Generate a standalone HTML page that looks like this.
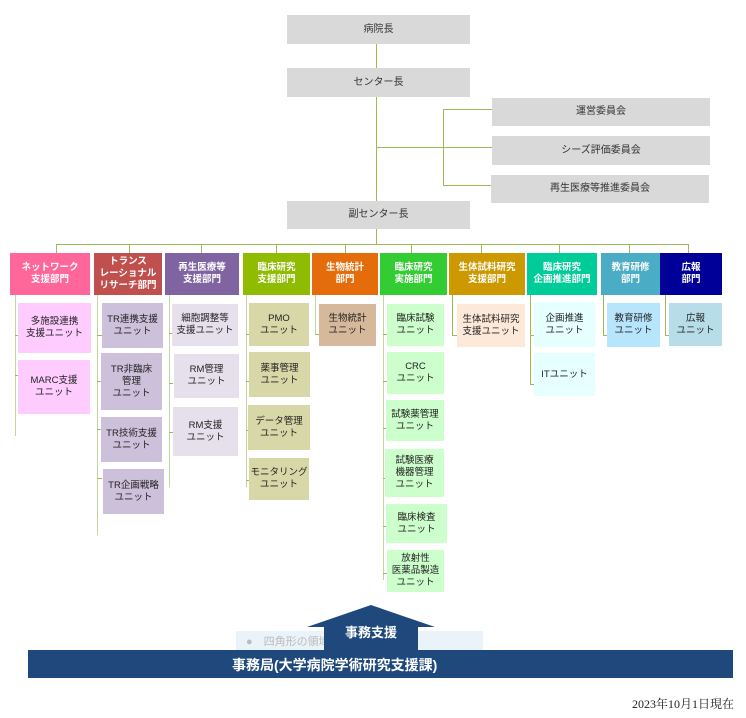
<!DOCTYPE html>
<html><head><meta charset="utf-8"><style>
body{margin:0;width:746px;height:718px;background:#fff;position:relative;overflow:hidden;font-family:"Liberation Sans","Noto Sans CJK JP",sans-serif;}
.b{position:absolute;display:flex;align-items:center;justify-content:center;text-align:center;font-size:10px;line-height:12px;color:#222;box-sizing:border-box;}
.g{background:#d9d9d9;color:#333;font-size:10px;}
.h{color:#fff;font-weight:bold;font-size:9.5px;line-height:12px;}
.u{font-size:9.5px;line-height:12px;color:#222;}
.l{position:absolute;background:#9bbb59;}
</style></head><body>
<!-- top lines -->
<div class="l" style="left:376px;top:44px;width:1px;height:157px"></div>
<div class="l" style="left:376px;top:147px;width:116px;height:1px"></div>
<div class="l" style="left:443px;top:109px;width:1px;height:77px"></div>
<div class="l" style="left:443px;top:109px;width:49px;height:1px"></div>
<div class="l" style="left:443px;top:185px;width:49px;height:1px"></div>
<div class="l" style="left:376px;top:229px;width:1px;height:15px"></div>
<div class="l" style="left:56px;top:244px;width:632px;height:1px"></div>
<div class="l" style="left:56px;top:244px;width:1px;height:9px"></div>
<div class="l" style="left:129px;top:244px;width:1px;height:9px"></div>
<div class="l" style="left:201px;top:244px;width:1px;height:9px"></div>
<div class="l" style="left:276px;top:244px;width:1px;height:9px"></div>
<div class="l" style="left:345px;top:244px;width:1px;height:9px"></div>
<div class="l" style="left:411px;top:244px;width:1px;height:9px"></div>
<div class="l" style="left:481px;top:244px;width:1px;height:9px"></div>
<div class="l" style="left:559px;top:244px;width:1px;height:9px"></div>
<div class="l" style="left:629px;top:244px;width:1px;height:9px"></div>
<div class="l" style="left:688px;top:244px;width:1px;height:9px"></div>

<div class="b g" style="left:287px;top:15px;width:183px;height:29px">病院長</div>
<div class="b g" style="left:287px;top:68px;width:183px;height:29px">センター長</div>
<div class="b g" style="left:492px;top:98px;width:218px;height:28px">運営委員会</div>
<div class="b g" style="left:492px;top:136px;width:218px;height:29px">シーズ評価委員会</div>
<div class="b g" style="left:491px;top:175px;width:218px;height:28px">再生医療等推進委員会</div>
<div class="b g" style="left:287px;top:201px;width:183px;height:28px">副センター長</div>

<!-- headers -->
<div class="b h" style="left:10px;top:253px;width:80px;height:42px;background:#ff6699">ネットワーク<br>支援部門</div>
<div class="b h" style="left:94px;top:253px;width:68px;height:42px;background:#c0504d">トランス<br>レーショナル<br>リサーチ部門</div>
<div class="b h" style="left:165px;top:253px;width:74px;height:42px;background:#8064a2">再生医療等<br>支援部門</div>
<div class="b h" style="left:243px;top:253px;width:67px;height:42px;background:#8fbc00">臨床研究<br>支援部門</div>
<div class="b h" style="left:312px;top:253px;width:66px;height:42px;background:#e46c0a">生物統計<br>部門</div>
<div class="b h" style="left:380px;top:253px;width:67px;height:42px;background:#33cc33">臨床研究<br>実施部門</div>
<div class="b h" style="left:449px;top:253px;width:76px;height:42px;background:#cc9900">生体試料研究<br>支援部門</div>
<div class="b h" style="left:527px;top:253px;width:70px;height:42px;background:#00cc99">臨床研究<br>企画推進部門</div>
<div class="b h" style="left:601px;top:253px;width:59px;height:42px;background:#4bacc6">教育研修<br>部門</div>
<div class="b h" style="left:660px;top:253px;width:62px;height:42px;background:#000099">広報<br>部門</div>

<!-- column connectors -->
<div class="l" style="left:15px;top:295px;width:1px;height:141px;background:#c3d69b"></div>
<div class="l" style="left:15px;top:335px;width:4px;height:1px"></div>
<div class="l" style="left:15px;top:375px;width:4px;height:1px"></div>
<div class="l" style="left:97px;top:295px;width:1px;height:240px;background:#c3d69b"></div>
<div class="l" style="left:97px;top:335px;width:5px;height:1px"></div><div class="l" style="left:97px;top:381px;width:5px;height:1px"></div><div class="l" style="left:97px;top:429px;width:5px;height:1px"></div><div class="l" style="left:97px;top:478px;width:5px;height:1px"></div>
<div class="l" style="left:169px;top:295px;width:1px;height:192px;background:#c3d69b"></div>
<div class="l" style="left:169px;top:333px;width:4px;height:1px"></div><div class="l" style="left:169px;top:383px;width:4px;height:1px"></div><div class="l" style="left:169px;top:432px;width:4px;height:1px"></div>
<div class="l" style="left:246px;top:295px;width:1px;height:192px;background:#c3d69b"></div>
<div class="l" style="left:246px;top:334px;width:4px;height:1px"></div><div class="l" style="left:246px;top:381px;width:4px;height:1px"></div><div class="l" style="left:246px;top:430px;width:4px;height:1px"></div><div class="l" style="left:246px;top:480px;width:4px;height:1px"></div>
<div class="l" style="left:315px;top:295px;width:1px;height:40px;background:#c3d69b"></div><div class="l" style="left:315px;top:334px;width:4px;height:1px"></div>
<div class="l" style="left:383px;top:295px;width:1px;height:285px;background:#c3d69b"></div>
<div class="l" style="left:383px;top:334px;width:4px;height:1px"></div><div class="l" style="left:383px;top:381px;width:4px;height:1px"></div><div class="l" style="left:383px;top:428px;width:4px;height:1px"></div><div class="l" style="left:383px;top:478px;width:4px;height:1px"></div><div class="l" style="left:383px;top:526px;width:4px;height:1px"></div><div class="l" style="left:383px;top:573px;width:4px;height:1px"></div>
<div class="l" style="left:452px;top:295px;width:1px;height:40px"></div><div class="l" style="left:452px;top:335px;width:5px;height:1px"></div>
<div class="l" style="left:530px;top:295px;width:1px;height:90px"></div><div class="l" style="left:530px;top:335px;width:4px;height:1px"></div><div class="l" style="left:530px;top:384px;width:4px;height:1px"></div>
<div class="l" style="left:603px;top:295px;width:1px;height:40px"></div><div class="l" style="left:603px;top:335px;width:4px;height:1px"></div>
<div class="l" style="left:665px;top:295px;width:1px;height:40px"></div><div class="l" style="left:665px;top:335px;width:4px;height:1px"></div>

<!-- units -->
<div class="b u" style="left:18px;top:303px;width:73px;height:50px;background:#ffccff">多施設連携<br>支援ユニット</div>
<div class="b u" style="left:18px;top:360px;width:72px;height:54px;background:#ffccff">MARC支援<br>ユニット</div>
<div class="b u" style="left:102px;top:303px;width:61px;height:45px;background:#ccc0da">TR連携支援<br>ユニット</div>
<div class="b u" style="left:101px;top:353px;width:61px;height:57px;background:#ccc0da">TR非臨床<br>管理<br>ユニット</div>
<div class="b u" style="left:101px;top:417px;width:61px;height:45px;background:#ccc0da">TR技術支援<br>ユニット</div>
<div class="b u" style="left:103px;top:469px;width:61px;height:45px;background:#ccc0da">TR企画戦略<br>ユニット</div>
<div class="b u" style="left:172px;top:304px;width:66px;height:42px;background:#e6e0ec">細胞調整等<br>支援ユニット</div>
<div class="b u" style="left:174px;top:354px;width:65px;height:44px;background:#e6e0ec">RM管理<br>ユニット</div>
<div class="b u" style="left:173px;top:407px;width:65px;height:49px;background:#e6e0ec">RM支援<br>ユニット</div>
<div class="b u" style="left:249px;top:303px;width:60px;height:43px;background:#d7d7a8">PMO<br>ユニット</div>
<div class="b u" style="left:249px;top:352px;width:61px;height:45px;background:#d7d7a8">薬事管理<br>ユニット</div>
<div class="b u" style="left:248px;top:405px;width:62px;height:45px;background:#d7d7a8">データ管理<br>ユニット</div>
<div class="b u" style="left:249px;top:458px;width:60px;height:42px;background:#d7d7a8">モニタリング<br>ユニット</div>
<div class="b u" style="left:319px;top:304px;width:57px;height:42px;background:#d5b99a">生物統計<br>ユニット</div>
<div class="b u" style="left:387px;top:304px;width:57px;height:42px;background:#ccffcc">臨床試験<br>ユニット</div>
<div class="b u" style="left:387px;top:352px;width:57px;height:42px;background:#ccffcc">CRC<br>ユニット</div>
<div class="b u" style="left:386px;top:400px;width:58px;height:41px;background:#ccffcc">試験薬管理<br>ユニット</div>
<div class="b u" style="left:385px;top:449px;width:59px;height:48px;background:#ccffcc">試験医療<br>機器管理<br>ユニット</div>
<div class="b u" style="left:386px;top:504px;width:61px;height:39px;background:#ccffcc">臨床検査<br>ユニット</div>
<div class="b u" style="left:387px;top:550px;width:57px;height:42px;background:#ccffcc">放射性<br>医薬品製造<br>ユニット</div>
<div class="b u" style="left:457px;top:304px;width:68px;height:43px;background:#fde9d9">生体試料研究<br>支援ユニット</div>
<div class="b u" style="left:534px;top:302px;width:61px;height:45px;background:#e6ffff">企画推進<br>ユニット</div>
<div class="b u" style="left:534px;top:353px;width:61px;height:43px;background:#e6ffff">ITユニット</div>
<div class="b u" style="left:607px;top:303px;width:53px;height:44px;background:#b7e5fb">教育研修<br>ユニット</div>
<div class="b u" style="left:669px;top:303px;width:53px;height:43px;background:#b7dde8">広報<br>ユニット</div>

<!-- bottom -->
<div style="position:absolute;left:236px;top:631px;width:247px;height:23px;background:rgba(220,235,245,0.6);font-size:11px;color:#bbb;line-height:23px;padding-left:10px;box-sizing:border-box">●　四角形の領域切り取り(R)</div>
<svg style="position:absolute;left:0;top:0" width="746" height="718"><polygon points="307,627 371,605 435,627 418,627 418,651 324,651 324,627" fill="#1f497d"/></svg>
<div style="position:absolute;left:324px;top:622px;width:94px;text-align:center;color:#fff;font-weight:bold;font-size:13px">事務支援</div>
<div style="position:absolute;left:28px;top:650px;width:705px;height:28px;background:#1f497d;color:#fff;font-weight:bold;font-size:14px;line-height:30px;padding-left:204px;box-sizing:border-box">事務局(大学病院学術研究支援課)</div>
<div style="position:absolute;left:590px;top:695px;width:144px;text-align:right;font-family:'Liberation Serif','Noto Serif CJK SC',serif;font-size:12px;color:#222">2023年10月1日現在</div>
</body></html>
